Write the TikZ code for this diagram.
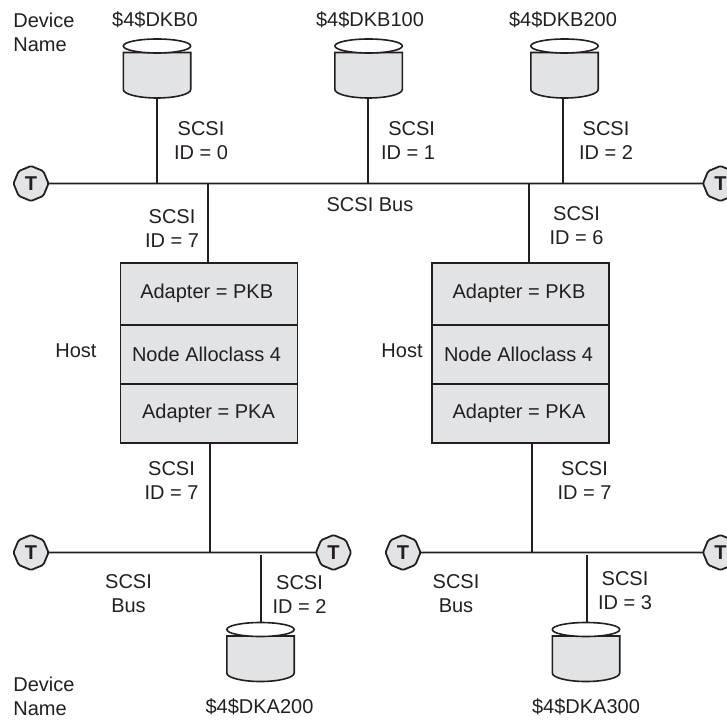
\documentclass[tikz,border=0pt]{standalone}
\usepackage{fontspec}
\setmainfont{Liberation Sans}
\definecolor{ink}{HTML}{231F20}
\definecolor{shade}{HTML}{E1E3E4}
\usetikzlibrary{shapes.geometric}
\tikzset{
  wire/.style={draw=ink,line width=1.6pt},
  diskbox/.style={rectangle,minimum width=67.5pt,minimum height=60pt,inner sep=0pt,outer sep=0pt},
  diskline/.style={draw=ink,line width=1.6pt},
  term/.style={regular polygon,regular polygon sides=8,regular polygon rotate=22.5,draw=ink,line width=1.8pt,fill=shade,
    minimum size=35pt,inner sep=0pt,outer sep=0pt,text=ink,font=\fontsize{20}{20}\selectfont\bfseries,rounded corners=1.5pt},
  hostpart/.style={rectangle,draw=ink,line width=1.6pt,fill=shade,minimum width=177pt,inner sep=0pt,outer sep=0pt},
  partlbl/.style={text=ink,inner sep=0pt,font=\fontsize{20}{24}\selectfont},
  lbl/.style={align=center,text=ink,inner sep=0pt,font=\fontsize{20}{24}\selectfont},
}
\newcommand\drum[3]{%
  \node[diskbox] (#1) at (#2,#3) {};
  \path[diskline,fill=shade] ([xshift=-33.7pt,yshift=16pt]#1.center) -- ([xshift=-33.7pt,yshift=-21pt]#1.center)
     arc[start angle=180,end angle=360,x radius=33.7pt,y radius=8.5pt] -- ([xshift=33.7pt,yshift=16pt]#1.center) -- cycle;
  \path[diskline,fill=white] ([yshift=22.5pt]#1.center) ellipse[x radius=33.7pt,y radius=7pt];
}
\begin{document}
\begin{tikzpicture}[x=1pt,y=-1pt]
\useasboundingbox (0,0) rectangle (727,719);
\clip (0,0) rectangle (727,719);
% terminators and buses
\node[term] (t1) at (31,183.5) {T};
\node[term] (t2) at (720.5,183.5) {T};
\node[term] (t4) at (31,552.5) {T};
\node[term] (t3) at (333.5,552.5) {T};
\node[term] (t5) at (403,552.5) {T};
\node[term] (t6) at (720.5,552.5) {T};
\draw[wire] (t1) -- (t2);
\draw[wire] (t4) -- (t3);
\draw[wire] (t5) -- (t6);
% hosts
\foreach \n/\x in {a/209,b/520.5}{
  \node[hostpart,minimum height=62pt] (\n1) at (\x,294) {};
  \node[hostpart,minimum height=59pt] (\n2) at (\x,354.5) {};
  \node[hostpart,minimum height=59pt] (\n3) at (\x,413.5) {};
}
\node[partlbl] (at1) at (206.7,293) {Adapter = PKB};
\node[partlbl] (at2) at (206.5,354) {Node Alloclass 4};
\node[partlbl] (at3) at (208.5,413) {Adapter = PKA};
\node[partlbl] (bt1) at (519,293) {Adapter = PKB};
\node[partlbl] (bt2) at (518.5,354) {Node Alloclass 4};
\node[partlbl] (bt3) at (519,413) {Adapter = PKA};
% disks
\drum{d1}{157}{68.5}
\drum{d2}{368.6}{68.5}
\drum{d3}{564.5}{68.5}
\drum{d4}{260.5}{652}
\drum{d5}{586}{652}
% connectors
\coordinate (p1) at (156.7,183.5);
\coordinate (p2) at (368,183.5);
\coordinate (p3) at (563,183.5);
\coordinate (p4) at (208,183.5);
\coordinate (p5) at (529,183.5);
\coordinate (p6) at (210,552.5);
\coordinate (p7) at (532,552.5);
\coordinate (p8) at (261,555);
\coordinate (p9) at (587,555);
\draw[wire] (p1) -- (p1 |- d1.south);
\draw[wire] (p2) -- (p2 |- d2.south);
\draw[wire] (p3) -- (p3 |- d3.south);
\draw[wire] (p4) -- (p4 |- a1.north);
\draw[wire] (p5) -- (p5 |- b1.north);
\draw[wire] (p6) -- (p6 |- a3.south);
\draw[wire] (p7) -- (p7 |- b3.south);
\draw[wire] (p8) -- (p8 |- d4.north);
\draw[wire] (p9) -- (p9 |- d5.north);
% labels
\node[lbl,align=left] (l1) at (44,32) {Device\\Name};
\node[lbl,align=left] (l2) at (44,696.5) {Device\\Name};
\node[lbl] (n1) at (155,20) {\$4\$DKB0};
\node[lbl] (n2) at (370,20) {\$4\$DKB100};
\node[lbl] (n3) at (563,20) {\$4\$DKB200};
\node[lbl] (n4) at (259.5,706.5) {\$4\$DKA200};
\node[lbl] (n5) at (586,706.5) {\$4\$DKA300};
\node[lbl] (s1) at (201,141) {SCSI\\ID = 0};
\node[lbl,align=right] (s2) at (408,141) {SCSI\\ID = 1};
\node[lbl] (s3) at (606,141) {SCSI\\ID = 2};
\node[lbl] (s4) at (172,229) {SCSI\\ID = 7};
\node[lbl] (s5) at (576.5,225.5) {SCSI\\ID = 6};
\node[lbl] (s6) at (171.5,481) {SCSI\\ID = 7};
\node[lbl] (s7) at (584.5,481) {SCSI\\ID = 7};
\node[lbl] (s8) at (299.5,595) {SCSI\\ID = 2};
\node[lbl] (s9) at (625,590.5) {SCSI\\ID = 3};
\node[lbl] (b1) at (370,205) {SCSI Bus};
\node[lbl] (b2) at (128.5,593.5) {SCSI\\Bus};
\node[lbl] (b3) at (456,593.5) {SCSI\\Bus};
\node[lbl] (h1) at (76,351) {Host};
\node[lbl] (h2) at (402,351) {Host};
\end{tikzpicture}
\end{document}
